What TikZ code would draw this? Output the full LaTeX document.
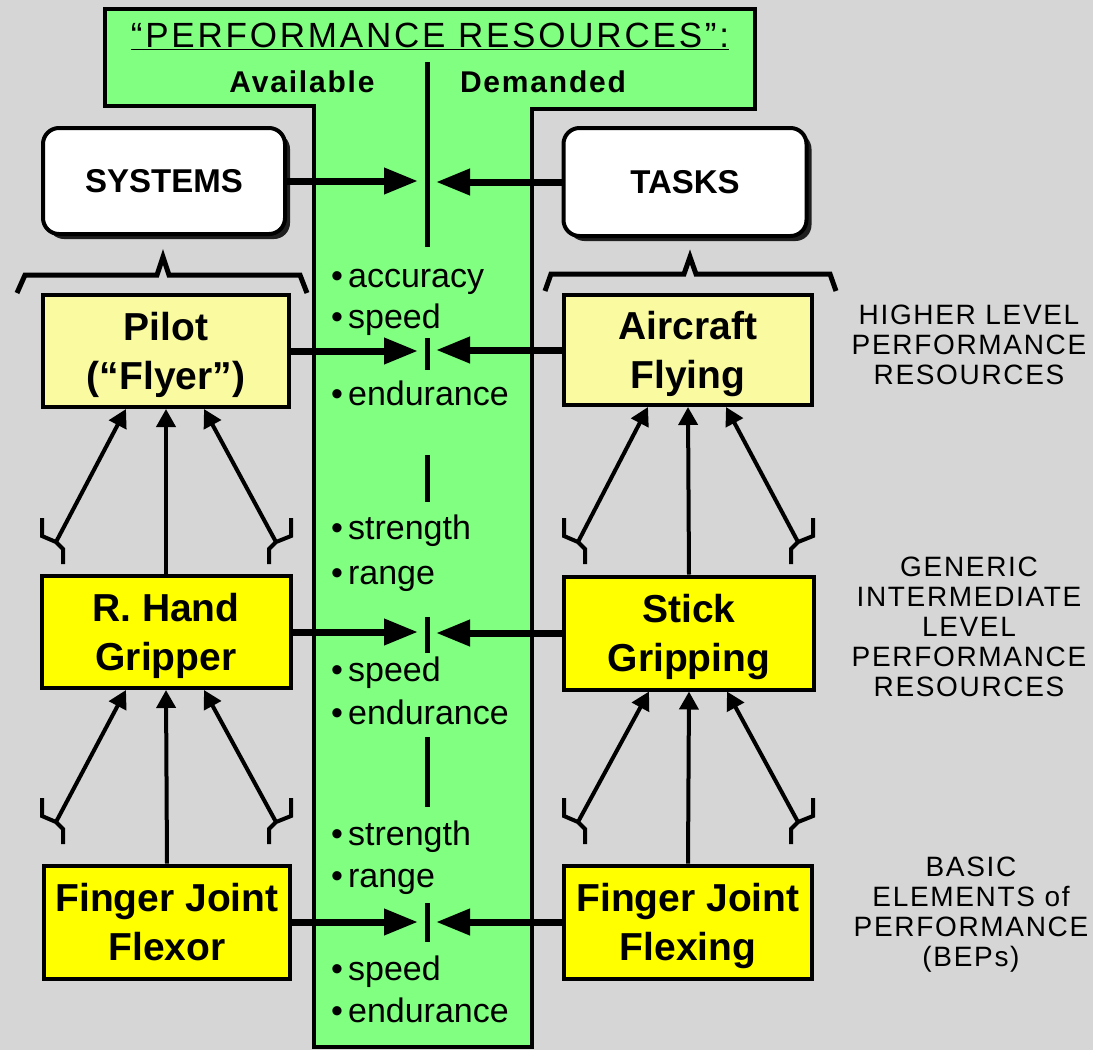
\documentclass[tikz,border=0pt]{standalone}
\usepackage{fontspec}
\setmainfont{Liberation Sans}
\usetikzlibrary{arrows.meta,calc,shadows}

\definecolor{bggray}{RGB}{214,214,214}
\definecolor{resgreen}{RGB}{128,255,128}
\definecolor{paleyellow}{RGB}{250,250,160}
\definecolor{brightyellow}{RGB}{255,255,0}

\tikzset{
  unitbox/.style={draw=black, line width=4pt, minimum width=246pt, minimum height=112pt,
    inner sep=0pt, align=center, text depth=0pt, font=\fontsize{39}{49}\selectfont\bfseries},
  hibox/.style={unitbox, fill=paleyellow},
  lobox/.style={unitbox, fill=brightyellow},
  groupbox/.style={draw=black, line width=4pt, fill=white, rounded corners=16pt,
    minimum width=242pt, minimum height=106pt, inner sep=0pt,
    font=\fontsize{33}{40}\selectfont\bfseries,
    drop shadow={shadow xshift=5pt, shadow yshift=-5pt, fill=black, opacity=.85}},
  feed/.style={line width=7pt, -{Triangle[length=34pt,width=25pt]}},
  uplink/.style={line width=4pt, -{Triangle[length=18pt,width=19pt]}},
  splice/.style={line width=4pt, line join=miter},
  bracket/.style={line width=5pt, line join=miter},
  divider/.style={line width=5pt},
  attrtext/.style={anchor=base west, inner sep=0pt, font=\fontsize{34}{38}\selectfont},
  levelnote/.style={anchor=north, align=center, inner sep=0pt,
    font=\fontsize{28}{30}\selectfont\addfontfeature{LetterSpace=6}},
}

% links between two levels of one column:
% #1 upper box, #2 lower box, #3 column x, #4 splice y, #5 name prefix
\newcommand\linkset[5]{%
  \coordinate (#5-jl) at ({#3-110},#4);
  \coordinate (#5-jr) at ({#3+110},#4);
  \coordinate (#5-tl) at ($(#1.south)+(-40,0)$);
  \coordinate (#5-tr) at ($(#1.south)+(38,0)$);
  \draw[uplink] (#5-jl) -- (#5-tl);
  \draw[uplink] (#2.north) -- (#1.south);
  \draw[uplink] (#5-jr) -- (#5-tr);
  \draw[splice] ({#3-124},{#4-24}) -- ({#3-124},{#4-6}) -- (#5-jl)
    -- ({#3-103},{#4+7}) -- ({#3-103},{#4+22});
  \draw[splice] ({#3+125},{#4-24}) -- ({#3+125},{#4-6}) -- (#5-jr)
    -- ({#3+103},{#4+7}) -- ({#3+103},{#4+22});
}

\begin{document}
\begin{tikzpicture}[x=1pt,y=-1pt]
\fill[bggray] (0,0) rectangle (1093,1050);
\useasboundingbox (0,0) rectangle (1093,1050);

% the T-shaped resources panel
\draw[fill=resgreen, line width=4pt, line join=miter]
  (105,9) -- (755,9) -- (755,109) -- (532,109) -- (532,1047)
  -- (314,1047) -- (314,106) -- (105,106) -- cycle;

\node[anchor=base, inner sep=0pt,
  font=\fontsize{35}{38}\selectfont\addfontfeature{LetterSpace=8}] (title)
  at (430,47) {\underline{“PERFORMANCE RESOURCES”:}};
\node[anchor=base, inner sep=0pt,
  font=\fontsize{30}{34}\selectfont\bfseries\addfontfeature{LetterSpace=6}] (avail)
  at (302,92) {Available};
\node[anchor=base, inner sep=0pt,
  font=\fontsize{30}{34}\selectfont\bfseries\addfontfeature{LetterSpace=6}] (demand)
  at (543,92) {Demanded};

% central available/demanded divider
\draw[divider] (427,62) -- (427,247);
\draw[divider] (427,338) -- (427,370);
\draw[divider] (427,455) -- (427,502);
\draw[divider] (427,617) -- (427,653);
\draw[divider] (427,737) -- (427,807);
\draw[divider] (427,903) -- (427,942);

\coordinate (tipL) at (418,0);
\coordinate (tipR) at (436,0);

% resource attributes
\node[attrtext] (a1) at (331,287) {•\hspace{5pt}accuracy};
\node[attrtext] (a2) at (331,328) {•\hspace{5pt}speed};
\node[attrtext] (a3) at (331,405) {•\hspace{5pt}endurance};
\node[attrtext] (b1) at (331,539) {•\hspace{5pt}strength};
\node[attrtext] (b2) at (331,584) {•\hspace{5pt}range};
\node[attrtext] (b3) at (331,681) {•\hspace{5pt}speed};
\node[attrtext] (b4) at (331,724) {•\hspace{5pt}endurance};
\node[attrtext] (c1) at (331,845) {•\hspace{5pt}strength};
\node[attrtext] (c2) at (331,887) {•\hspace{5pt}range};
\node[attrtext] (c3) at (331,980) {•\hspace{5pt}speed};
\node[attrtext] (c4) at (331,1022) {•\hspace{5pt}endurance};

% group headers
\node[groupbox] (systems) at (164,181) {SYSTEMS};
\node[groupbox, minimum width=243pt, minimum height=108pt] (tasks) at (685,182) {TASKS};

% braces under the headers
\draw[bracket] (17,293) -- (25,275) -- (157,275) -- (163,257) -- (169,275)
  -- (300,275) -- (307,293);
\draw[bracket] (545,291) -- (551,274) -- (684,274) -- (690,257) -- (696,274)
  -- (830,274) -- (836,291);

% system and task boxes
\node[hibox] (pilot) at (166,351) {Pilot\\(“Flyer”)};
\node[hibox, minimum width=248pt, minimum height=110pt] (aircraft) at (688,350) {Aircraft\\Flying};
\node[lobox, minimum width=249pt] (rhand) at (166,632) {R. Hand\\Gripper};
\node[lobox, minimum width=250pt, minimum height=113pt] (stick) at (689,633) {Stick\\Gripping};
\node[lobox, minimum height=113pt] (flexor) at (167,922) {Finger Joint\\Flexor};
\node[lobox, minimum width=248pt, minimum height=113pt] (flexing) at (688,922) {Finger Joint\\Flexing};

% available / demanded feeds
\draw[feed] (systems.east) -- (systems.east -| tipL);
\draw[feed] (tasks.west) -- (tasks.west -| tipR);
\draw[feed] (pilot.east) -- (pilot.east -| tipL);
\draw[feed] (aircraft.west) -- (aircraft.west -| tipR);
\draw[feed] (rhand.east) -- (rhand.east -| tipL);
\draw[feed] (stick.west) -- (stick.west -| tipR);
\draw[feed] (flexor.east) -- (flexor.east -| tipL);
\draw[feed] (flexing.west) -- (flexing.west -| tipR);

% composition links
\linkset{pilot}{rhand}{166}{542}{pa}
\linkset{rhand}{flexor}{166}{822}{pb}
\linkset{aircraft}{stick}{688}{542}{ta}
\linkset{stick}{flexing}{688}{822}{tb}

% level notes
\node[levelnote] (hinote) at (969,305) {HIGHER LEVEL\\PERFORMANCE\\RESOURCES};
\node[levelnote] (midnote) at (969,557) {GENERIC\\INTERMEDIATE\\LEVEL\\PERFORMANCE\\RESOURCES};
\node[levelnote] (lonote) at (971,857) {BASIC\\ELEMENTS of\\PERFORMANCE\\(BEPs)};
\end{tikzpicture}
\end{document}
